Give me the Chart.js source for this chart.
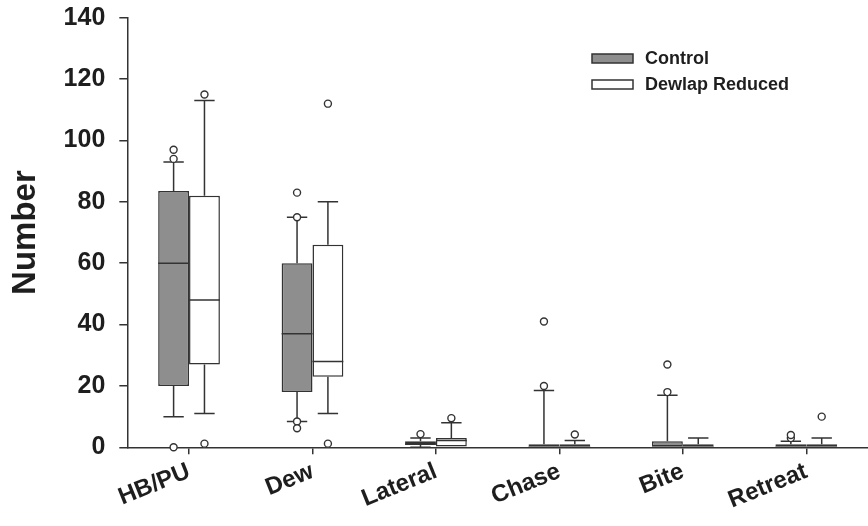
<!DOCTYPE html>
<html>
<head>
<meta charset="utf-8">
<script src="https://cdn.jsdelivr.net/npm/chart.js@4.4.1/dist/chart.umd.min.js"></script>
<style>
  html, body { margin: 0; padding: 0; background: #ffffff; }
  #wrap { width: 868px; height: 526px; }
</style>
</head>
<body>
<div id="wrap"><canvas id="c" width="868" height="526"></canvas></div>
<script>
const categories = ['HB/PU', 'Dew', 'Lateral', 'Chase', 'Bite', 'Retreat'];
const seriesNames = ['Control', 'Dewlap Reduced'];
const yTicks = [0, 20, 40, 60, 80, 100, 120, 140];

const controlLow      = [10, 8.4, 0, 0, 0, 0];
const controlQ1       = [20, 18, 1, 0, 0, 0];
const controlMedian   = [60, 37, 1, 0, 0, 0];
const controlQ3       = [83.5, 60, 2, 1, 2, 1];
const controlHigh     = [93, 75, 3, 18.5, 17, 2];
const controlOutliers = [[97, 94, 0], [83, 75, 8.4, 6.2], [4.3], [41, 20], [27, 18], [3, 4]];

const reducedLow      = [11, 11, 0, 0, 0, 0];
const reducedQ1       = [27, 23, 0, 0, 0, 0];
const reducedMedian   = [48, 28, 2.2, 0, 0, 0];
const reducedQ3       = [82, 66, 3, 1, 1, 1];
const reducedHigh     = [113, 80, 8, 2.2, 3, 3];
const reducedOutliers = [[115, 1.2], [112, 1.2], [9.5], [4.2], [], [10]];

const FONT = "'Liberation Sans', Arial, Helvetica, sans-serif";
const INK = '#1e1e1e';
const LINE = '#333333';

const stats = [
  { low: controlLow, q1: controlQ1, med: controlMedian, q3: controlQ3, high: controlHigh, out: controlOutliers },
  { low: reducedLow, q1: reducedQ1, med: reducedMedian, q3: reducedQ3, high: reducedHigh, out: reducedOutliers }
];

const boxPlugin = {
  id: 'boxExtras',
  afterDatasetsDraw(chart) {
    const ctx = chart.ctx;
    const y = chart.scales.y;
    ctx.save();
    ctx.strokeStyle = LINE;
    ctx.lineWidth = 1.5;
    chart.data.datasets.forEach((ds, d) => {
      const meta = chart.getDatasetMeta(d);
      const s = stats[d];
      meta.data.forEach((bar, i) => {
        const x = bar.x, w = bar.width;
        const cap = w * 0.33;
        ctx.beginPath();
        ctx.moveTo(x - w / 2, y.getPixelForValue(s.med[i]));
        ctx.lineTo(x + w / 2, y.getPixelForValue(s.med[i]));
        if (s.high[i] > s.q3[i]) {
          ctx.moveTo(x, y.getPixelForValue(s.q3[i]));
          ctx.lineTo(x, y.getPixelForValue(s.high[i]));
          ctx.moveTo(x - cap, y.getPixelForValue(s.high[i]));
          ctx.lineTo(x + cap, y.getPixelForValue(s.high[i]));
        }
        if (s.low[i] < s.q1[i]) {
          ctx.moveTo(x, y.getPixelForValue(s.q1[i]));
          ctx.lineTo(x, y.getPixelForValue(s.low[i]));
          ctx.moveTo(x - cap, y.getPixelForValue(s.low[i]));
          ctx.lineTo(x + cap, y.getPixelForValue(s.low[i]));
        }
        ctx.stroke();
        s.out[i].forEach(v => {
          ctx.beginPath();
          ctx.arc(x, y.getPixelForValue(v), 3.5, 0, Math.PI * 2);
          ctx.fillStyle = '#ffffff';
          ctx.fill();
          ctx.lineWidth = 1.4;
          ctx.stroke();
        });
        ctx.lineWidth = 1.5;
      });
    });
    ctx.restore();
  },
  afterDraw(chart) {
    const ctx = chart.ctx;
    ctx.save();
    const bx = 592, bw = 41, bh = 9;
    const rows = [58.5, 84.5];
    chart.data.datasets.forEach((ds, d) => {
      const cy = rows[d];
      ctx.fillStyle = ds.backgroundColor;
      ctx.fillRect(bx, cy - bh / 2, bw, bh);
      ctx.strokeStyle = LINE;
      ctx.lineWidth = 1.5;
      ctx.strokeRect(bx, cy - bh / 2, bw, bh);
      ctx.fillStyle = INK;
      ctx.font = "bold 18px " + FONT;
      ctx.textAlign = 'left';
      ctx.textBaseline = 'middle';
      ctx.fillText(ds.label, 645, cy + 1);
    });
    ctx.restore();
  }
};

new Chart(document.getElementById('c'), {
  type: 'bar',
  data: {
    labels: categories,
    datasets: [
      {
        label: seriesNames[0],
        data: controlQ1.map((q, i) => [q, controlQ3[i]]),
        backgroundColor: '#8e8e8e',
        borderColor: LINE,
        borderWidth: 1.5,
        borderSkipped: false,
        categoryPercentage: 0.5,
        barPercentage: 1.0
      },
      {
        label: seriesNames[1],
        data: reducedQ1.map((q, i) => [q, reducedQ3[i]]),
        backgroundColor: '#ffffff',
        borderColor: LINE,
        borderWidth: 1.5,
        borderSkipped: false,
        categoryPercentage: 0.5,
        barPercentage: 1.0
      }
    ]
  },
  options: {
    responsive: false,
    devicePixelRatio: 1,
    animation: false,
    layout: { padding: { left: 6, right: 0, top: 0, bottom: 8 } },
    plugins: {
      legend: { display: false },
      tooltip: { enabled: false }
    },
    scales: {
      x: {
        type: 'category',
        offset: true,
        grid: { offset: false, drawOnChartArea: false, tickLength: 7, color: LINE, lineWidth: 1.5 },
        border: { color: LINE, width: 1.5 },
        ticks: {
          minRotation: 22, maxRotation: 22,
          color: INK, padding: 3,
          font: { family: FONT, size: 24, weight: 'bold' }
        }
      },
      y: {
        min: 0, max: 140,
        afterBuildTicks(scale) { scale.ticks = yTicks.map(v => ({ value: v })); },
        grid: { drawOnChartArea: false, tickLength: 8, color: LINE, lineWidth: 1.5 },
        border: { color: LINE, width: 1.5 },
        ticks: {
          color: INK, padding: 14,
          font: { family: FONT, size: 25, weight: 'bold', lineHeight: 0.3 }
        },
        title: {
          display: true, text: 'Number', color: INK,
          font: { family: FONT, size: 33, weight: 'bold' },
          padding: { top: 0, bottom: 4 }
        }
      }
    }
  },
  plugins: [boxPlugin]
});
</script>
</body>
</html>
